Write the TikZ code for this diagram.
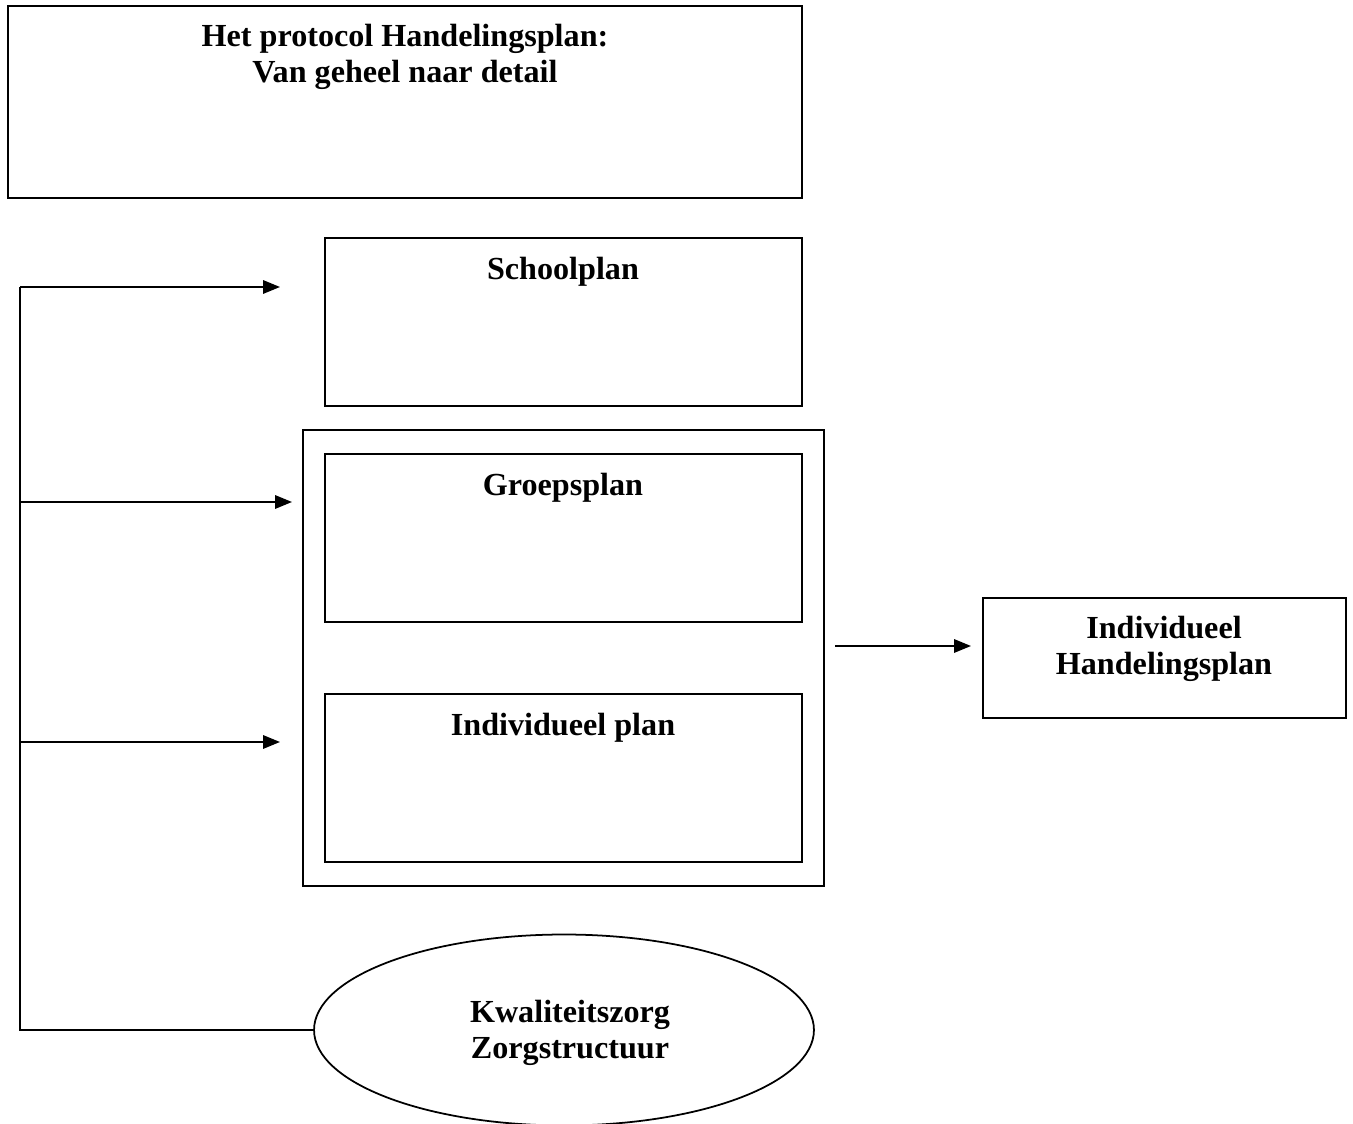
\documentclass[tikz,border=0pt]{standalone}
\usepackage{fontspec}
\setmainfont{Liberation Serif}
\usetikzlibrary{arrows.meta,shapes.geometric}
\tikzset{
  planbox/.style={draw, line width=1pt, rectangle, inner sep=0pt},
  plantext/.style={font=\fontsize{18.3}{20.6}\selectfont\bfseries, align=center, inner sep=0pt},
  pijl/.style={line width=1pt, -{Triangle[length=0.34cm, width=0.27cm]}},
  lijn/.style={line width=1pt}
}
\begin{document}
\begin{tikzpicture}[x=0.02cm, y=-0.02cm]
			%%%%% START %%%%%
			\useasboundingbox (0, 0) rectangle (1353, 1124);
			\begin{scope}
			\clip (0, 0) rectangle (1353, 1124);
			
			% titel
			\draw[planbox] (8, 6) rectangle (802, 198);
			\node[plantext] (titel) at (405, 57) {Het protocol Handelingsplan:\\Van geheel naar detail};
			
			% plannen
			\draw[planbox] (325, 238) rectangle (802, 406);
			\node[plantext] (schoolplan) at (563, 272) {Schoolplan};
			
			\draw[planbox] (303, 430) rectangle (824, 886);
			
			\draw[planbox] (325, 454) rectangle (802, 622);
			\node[plantext] (groepsplan) at (563, 488) {Groepsplan};
			
			\draw[planbox] (325, 694) rectangle (802, 862);
			\node[plantext] (indplan) at (563, 728) {Individueel plan};
			
			\draw[planbox] (983, 598) rectangle (1346, 718);
			\node[plantext] (ihp) at (1164, 649) {Individueel\\Handelingsplan};
			
			\coordinate (uit) at (835, 646);
			\coordinate (in) at (971, 646);
			\draw[pijl] (uit) -- (in);
			
			% kwaliteitszorg
			\node[draw, line width=1pt, ellipse, inner sep=0pt,
			      minimum width=10cm, minimum height=3.82cm] (zorg) at (564, 1030) {};
			\node[plantext] (zorgtekst) at (570, 1033) {Kwaliteitszorg\\Zorgstructuur};
			
			% terugkoppeling
			\coordinate (hoek) at (20, 287);
			\coordinate (s) at (280, 287);
			\coordinate (g0) at (20, 502);
			\coordinate (g) at (292, 502);
			\coordinate (i0) at (20, 742);
			\coordinate (i) at (280, 742);
			\coordinate (voet) at (20, 1030);
			
			\draw[lijn] (zorg.west) -- (voet) -- (hoek);
			\draw[pijl] (hoek) -- (s);
			\draw[pijl] (g0) -- (g);
			\draw[pijl] (i0) -- (i);
			\end{scope}
			%%%%% END %%%%%
\end{tikzpicture}
\end{document}
